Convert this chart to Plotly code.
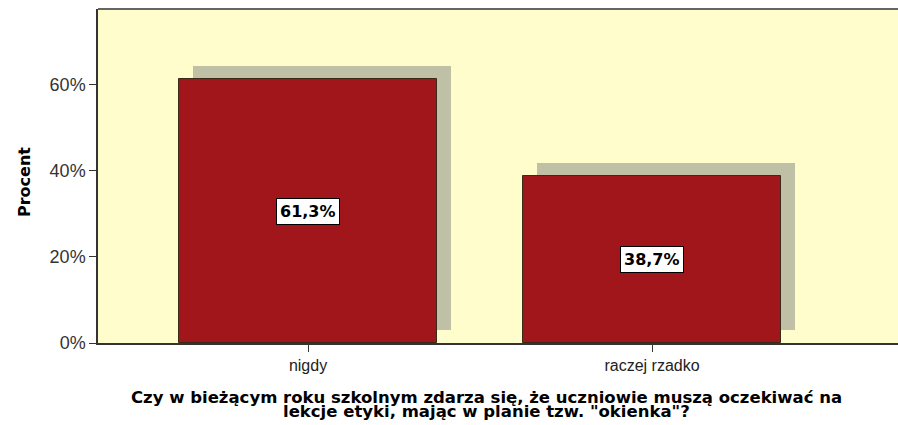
import plotly.graph_objects as go

categories = ["nigdy", "raczej rzadko"]
values = [61.3, 38.7]
labels = ["61,3%", "38,7%"]
yticks = [0, 20, 40, 60]
yticklabels = ["0%", "20%", "40%", "60%"]
x_title_lines = [
    "Czy w bieżącym roku szkolnym zdarza się, że uczniowie muszą oczekiwać na",
    "lekcje etyki, mając w planie tzw. \"okienka\"?",
]
y_title = "Procent"

W, H = 898, 425
L, R, T, B = 98, 0, 9, 82
PW, PH = W - L - R, H - T - B
PLOT_BOTTOM = H - B


def px_x(ref_x):
    return (ref_x - L) / PW


def px_y(ref_y):
    return (PLOT_BOTTOM - ref_y) / PH


x_pos = list(range(len(categories)))
shadow_dx = 0.04
shadow_dy = 3.1
shadow_base = 3.0

fig = go.Figure()
fig.add_trace(go.Bar(
    x=[p + shadow_dx for p in x_pos],
    y=[v + shadow_dy - shadow_base for v in values],
    base=[shadow_base] * len(values),
    width=0.75,
    marker=dict(color="#C0C0A6", line=dict(width=0)),
    hoverinfo="skip",
    showlegend=False,
))
fig.add_trace(go.Bar(
    x=x_pos,
    y=values,
    width=0.75,
    marker=dict(color="#A0161A", line=dict(color="#3a2a1a", width=1)),
    showlegend=False,
))
for p, v, t in zip(x_pos, values, labels):
    fig.add_annotation(
        x=p, y=v / 2, text="<b>" + t + "</b>", showarrow=False,
        bgcolor="white", bordercolor="black", borderwidth=1, borderpad=3,
        font=dict(family="DejaVu Sans", size=16, color="black"),
    )

title_font = dict(family="DejaVu Sans", size=16.5, color="black")
for line, py in zip(x_title_lines, [397, 411.5]):
    fig.add_annotation(
        xref="paper", yref="paper", x=px_x(486), y=px_y(py),
        xanchor="center", yanchor="middle",
        text="<b>" + line + "</b>", showarrow=False, font=title_font,
    )

fig.add_annotation(
    xref="paper", yref="paper", x=px_x(24), y=px_y(182),
    xanchor="center", yanchor="middle", textangle=-90,
    text="<b>" + y_title + "</b>", showarrow=False,
    font=dict(family="DejaVu Sans", size=16, color="black"),
)

fig.add_shape(type="line", xref="paper", yref="paper", x0=0, x1=1, y0=1, y1=1,
              line=dict(color="#333333", width=1.5))

fig.update_layout(
    width=W, height=H,
    margin=dict(l=L, r=R, t=T, b=B, autoexpand=False),
    paper_bgcolor="white",
    plot_bgcolor="#FFFDCB",
    barmode="overlay",
    bargap=0,
    xaxis=dict(
        range=[-0.6105, 1.715],
        tickvals=x_pos, ticktext=categories,
        showgrid=False, zeroline=False,
        showline=True, linecolor="#333333", linewidth=1.5,
        ticks="outside", ticklen=7, tickcolor="#333333",
        tickfont=dict(family="Liberation Sans, Arial", size=16, color="#222222"),
    ),
    yaxis=dict(
        range=[0, 77.6],
        tickvals=yticks, ticktext=yticklabels,
        showgrid=False, zeroline=False,
        showline=True, linecolor="#333333", linewidth=1.5,
        ticks="outside", ticklen=7, tickcolor="#333333",
        tickfont=dict(family="Liberation Sans, Arial", size=18, color="#333333"),
    ),
)

fig.write_html(
    "out.html",
    config={"displayModeBar": False},
    post_script="document.body.style.margin='0';document.body.style.overflow='hidden';",
)
